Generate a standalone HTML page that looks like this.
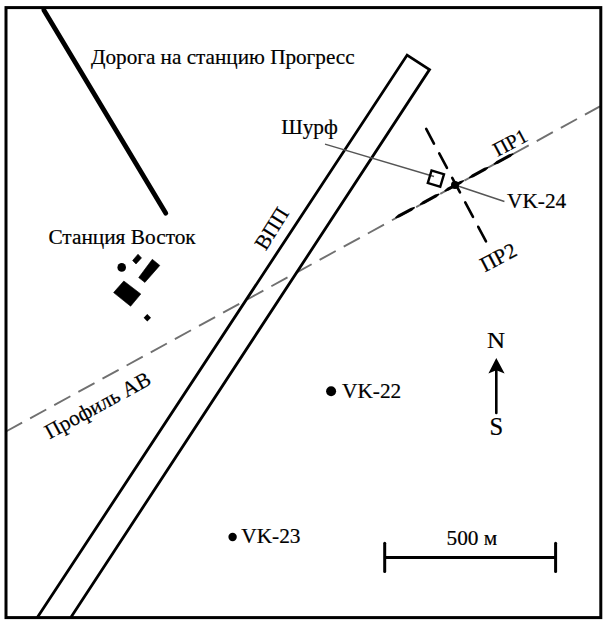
<!DOCTYPE html>
<html><head><meta charset="utf-8"><style>
html,body{margin:0;padding:0;background:#fff;width:608px;height:625px;overflow:hidden}
svg{display:block}
text{font-family:"Liberation Serif",serif;fill:#000;stroke:#000;stroke-width:0.2px}
</style></head><body>
<svg width="608" height="625" viewBox="0 0 608 625">
<rect x="0" y="0" width="608" height="625" fill="#fff"/>
<!-- profile AB gray dashed -->
<line x1="5.47" y1="431.8" x2="600" y2="106.4" stroke="#707070" stroke-width="1.9" stroke-dasharray="18.4 9.1" stroke-dashoffset="-0.6"/>
<!-- frame -->
<rect x="6" y="7.6" width="594.8" height="610" fill="none" stroke="#000" stroke-width="3"/>
<!-- road -->
<line x1="43.8" y1="10" x2="165.8" y2="213.2" stroke="#000" stroke-width="4.8" stroke-linecap="round"/>
<!-- runway -->
<polyline points="37.3,617.5 407.1,55.1 429.5,69.6 70.8,617.5" fill="none" stroke="#000" stroke-width="2.8" stroke-linejoin="miter"/>
<!-- shurf thin lines -->
<line x1="325" y1="144.2" x2="434" y2="176.5" stroke="#555" stroke-width="1.4"/>
<line x1="455" y1="185" x2="504.4" y2="201.5" stroke="#555" stroke-width="1.4"/>
<!-- square -->
<rect x="-6.5" y="-6.5" width="13" height="13" fill="none" stroke="#000" stroke-width="2.4" transform="translate(435.9 178.65) rotate(16.8)"/>
<!-- PR1 thick dashed -->
<path d="M395.70 218.41 L399.67 217.34 L411.96 210.64 L415.02 207.90 L414.45 206.84 L410.48 207.92 L398.19 214.61 L395.13 217.36ZM420.29 205.03 L424.26 203.95 L436.56 197.26 L439.62 194.51 L439.04 193.46 L435.07 194.53 L422.78 201.23 L419.72 203.97ZM444.89 191.64 L448.85 190.56 L461.15 183.87 L464.21 181.12 L463.63 180.07 L459.67 181.15 L447.37 187.84 L444.31 190.59ZM469.48 178.25 L473.45 177.18 L485.74 170.48 L488.80 167.74 L488.23 166.68 L484.26 167.76 L471.96 174.45 L468.90 177.20ZM494.07 164.87 L498.04 163.79 L510.51 157.00 L513.57 154.25 L513.00 153.20 L509.03 154.28 L496.56 161.07 L493.50 163.81Z" fill="#000"/>
<!-- PR2 thick dashed -->
<line x1="425.6" y1="127.8" x2="486.5" y2="242.3" stroke="#000" stroke-width="2.6" stroke-dasharray="16.5 11.2" stroke-dashoffset="-1.3" stroke-linecap="round"/>
<circle cx="455" cy="185" r="4" fill="#000"/>
<!-- station -->
<polygon points="132.6,260.6 138,254.2 141.5,257.9 136,264" fill="#000" stroke="#000" stroke-width="0.6" stroke-linejoin="round"/>
<circle cx="121.7" cy="267.4" r="4.3" fill="#000"/>
<polygon points="138.7,277.6 152.3,259.3 159.8,265.4 144.9,282.4" fill="#000" stroke="#000" stroke-width="0.6" stroke-linejoin="round"/>
<polygon points="113.6,292.6 123.8,281 140.8,294 130.6,306.2" fill="#000" stroke="#000" stroke-width="0.6" stroke-linejoin="round"/>
<rect x="-2.6" y="-2.6" width="5.2" height="5.2" fill="#000" transform="translate(147.3 317.8) rotate(45)"/>
<!-- dots -->
<circle cx="331.1" cy="391.3" r="5" fill="#000"/>
<circle cx="232.6" cy="537" r="4.2" fill="#000"/>
<!-- north arrow -->
<line x1="496.3" y1="368" x2="496.3" y2="413" stroke="#000" stroke-width="2.6" stroke-linecap="round"/>
<polygon points="496.3,358 504.6,373.4 496.3,370.3 488.4,373.4" fill="#000"/>
<!-- scale bar -->
<line x1="384.7" y1="557.5" x2="555.6" y2="557.5" stroke="#000" stroke-width="3"/>
<line x1="384.7" y1="543.2" x2="384.7" y2="571.5" stroke="#000" stroke-width="3" stroke-linecap="round"/>
<line x1="555.6" y1="543.2" x2="555.6" y2="571.5" stroke="#000" stroke-width="3" stroke-linecap="round"/>
<!-- texts -->
<text x="91" y="63.6" font-size="21.2">Дорога на станцию Прогресс</text>
<text x="48.4" y="243.8" font-size="21.33">Станция Восток</text>
<text x="281.2" y="133.5" font-size="21.33">Шурф</text>
<text x="507" y="207.5" font-size="21.33">VK-24</text>
<text x="342" y="397.9" font-size="21.33">VK-22</text>
<text x="241.3" y="543" font-size="21.33">VK-23</text>
<text x="446.5" y="544.6" font-size="21.33">500 м</text>
<text transform="translate(486.9 347.8) scale(1.06 1)" font-size="23.6">N</text>
<text x="489.4" y="435.2" font-size="24.6">S</text>
<text font-size="20.2" transform="translate(497.4 157) rotate(-28)">ПР1</text>
<text font-size="21.33" transform="translate(484.7 272.4) rotate(-27.5)">ПР2</text>
<text font-size="21.33" transform="translate(265.8 251.5) rotate(-58)">ВПП</text>
<text font-size="21.33" transform="translate(49.4 439.5) rotate(-28.5)">Профиль AB</text>
</svg>
</body></html>
